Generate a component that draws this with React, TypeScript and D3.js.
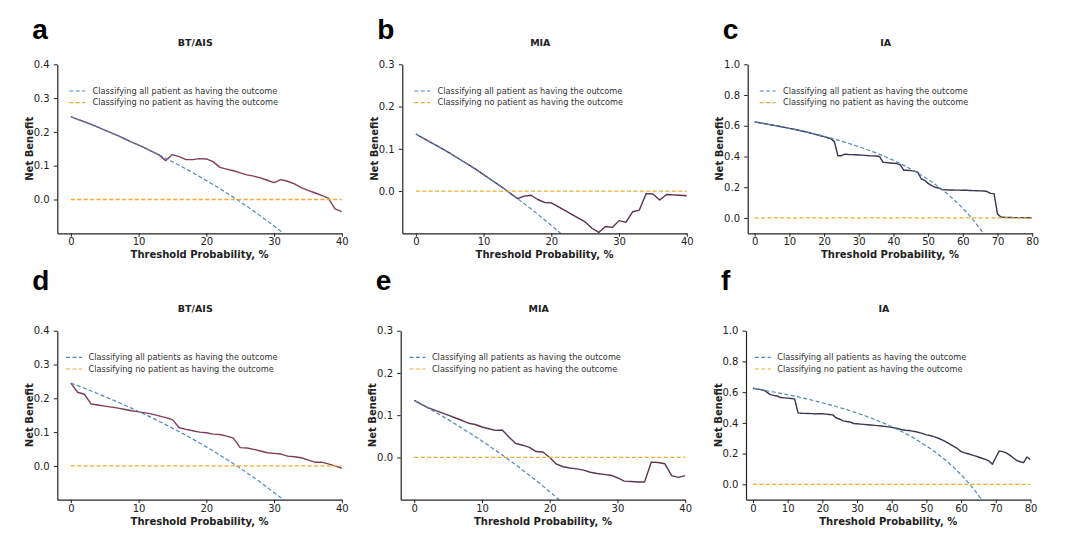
import { useEffect, useRef } from "react";
import * as d3 from "d3";

// threshold probabilities (%)
const thresholds40 = [
	0, 1, 2, 3, 4, 5, 6, 7, 8, 9, 10, 11, 12, 13, 14, 15, 16, 17, 18, 19, 20, 21, 22, 23, 24, 25, 26, 27, 28, 29, 30, 31, 32,
	33, 34, 35, 36, 37, 38, 39, 40,
];
const thresholds80 = [
	0, 1, 2, 3, 4, 5, 6, 7, 8, 9, 10, 11, 12, 13, 14, 15, 16, 17, 18, 19, 20, 21, 22, 23, 24, 25, 26, 27, 28, 29, 30, 31, 32,
	33, 34, 35, 36, 37, 38, 39, 40, 41, 42, 43, 44, 45, 46, 47, 48, 49, 50, 51, 52, 53, 54, 55, 56, 57, 58, 59, 60, 61, 62,
	63, 64, 65, 66, 67, 68, 69, 70, 71, 72, 73, 74, 75, 76, 77, 78, 79, 80,
];

// "treat all" net benefit, read at each threshold
const treatAllBtAis = [
	0.245, 0.2374, 0.2296, 0.2216, 0.2135, 0.2053, 0.1968, 0.1882, 0.1793, 0.1703, 0.1611, 0.1517, 0.142, 0.1322, 0.1221,
	0.1118, 0.1012, 0.0904, 0.0793, 0.0679, 0.0563, 0.0443, 0.0321, 0.0195, 0.0066, -0.0067, -0.0203, -0.0342, -0.0486,
	-0.0634, -0.0786, -0.0942, -0.1103,
];
const treatAllMia = [
	0.135, 0.1263, 0.1173, 0.1082, 0.099, 0.0895, 0.0798, 0.0699, 0.0598, 0.0495, 0.0389, 0.0281, 0.017, 0.0057, -0.0058,
	-0.0176, -0.0298, -0.0422, -0.0549, -0.0679, -0.0813, -0.0949, -0.109,
];
const treatAllIa = [
	0.625, 0.621, 0.617, 0.613, 0.609, 0.605, 0.601, 0.597, 0.592, 0.588, 0.583, 0.579, 0.574, 0.569, 0.564, 0.559, 0.554,
	0.548, 0.543, 0.537, 0.531, 0.525, 0.519, 0.513, 0.5066, 0.5, 0.4932, 0.4863, 0.4792, 0.4718, 0.4643, 0.4565, 0.4485,
	0.4403, 0.4318, 0.4231, 0.4141, 0.4048, 0.3952, 0.3852, 0.375, 0.3644, 0.3534, 0.3421, 0.3304, 0.3182, 0.3056, 0.2925,
	0.2788, 0.2647, 0.25, 0.2347, 0.2188, 0.2021, 0.1848, 0.1667, 0.1477, 0.1279, 0.1071, 0.0854, 0.0625, 0.0385, 0.0132,
	-0.0135, -0.0417, -0.0714, -0.1029,
];

// model net benefit
const modelA = [
	0.245, 0.237, 0.23, 0.222, 0.214, 0.205, 0.197, 0.188, 0.179, 0.17, 0.161, 0.152, 0.142, 0.132, 0.115, 0.133, 0.127,
	0.118, 0.118, 0.121, 0.12, 0.112, 0.095, 0.09, 0.085, 0.079, 0.073, 0.069, 0.064, 0.057, 0.05, 0.059, 0.054, 0.046,
	0.035, 0.027, 0.02, 0.012, 0.004, -0.028, -0.036,
];
const modelB = [
	0.135, 0.126, 0.117, 0.108, 0.099, 0.09, 0.08, 0.07, 0.06, 0.05, 0.039, 0.028, 0.017, 0.006, -0.006, -0.018, -0.012,
	-0.01, -0.02, -0.027, -0.028, -0.037, -0.046, -0.055, -0.064, -0.073, -0.088, -0.098, -0.084, -0.086, -0.07, -0.074,
	-0.049, -0.045, -0.006, -0.007, -0.021, -0.008, -0.009, -0.01, -0.011,
];
const modelC = [
	0.625, 0.621, 0.617, 0.613, 0.609, 0.605, 0.601, 0.597, 0.592, 0.588, 0.583, 0.579, 0.574, 0.569, 0.564, 0.559, 0.553,
	0.547, 0.541, 0.535, 0.529, 0.522, 0.515, 0.495, 0.405, 0.405, 0.415, 0.413, 0.412, 0.411, 0.41, 0.409, 0.407, 0.405,
	0.404, 0.403, 0.4, 0.362, 0.36, 0.358, 0.356, 0.354, 0.345, 0.31, 0.31, 0.308, 0.305, 0.298, 0.255, 0.245, 0.225, 0.21,
	0.2, 0.195, 0.185, 0.183, 0.182, 0.182, 0.181, 0.181, 0.18, 0.18, 0.179, 0.178, 0.177, 0.176, 0.175, 0.172, 0.16, 0.158,
	0.025, 0.006, 0.004, 0.003, 0.003, 0.002, 0.002, 0.002, 0.001, 0.001, 0.001,
];
const modelD = [
	0.245, 0.218, 0.212, 0.183, 0.18, 0.177, 0.174, 0.171, 0.167, 0.163, 0.16, 0.157, 0.153, 0.148, 0.143, 0.137, 0.113,
	0.108, 0.104, 0.1, 0.098, 0.094, 0.093, 0.088, 0.082, 0.054, 0.053, 0.049, 0.044, 0.039, 0.037, 0.035, 0.029, 0.027,
	0.024, 0.018, 0.011, 0.011, 0.006, 0.0, -0.007,
];
const modelE = [
	0.135, 0.126, 0.118, 0.112, 0.106, 0.1, 0.094, 0.088, 0.081, 0.078, 0.072, 0.068, 0.064, 0.065, 0.048, 0.033, 0.029,
	0.024, 0.014, 0.013, 0.0, -0.016, -0.022, -0.025, -0.027, -0.03, -0.035, -0.038, -0.04, -0.042, -0.048, -0.056, -0.057,
	-0.058, -0.058, -0.011, -0.012, -0.015, -0.043, -0.047, -0.043,
];
const modelF = [
	0.625, 0.621, 0.618, 0.614, 0.6, 0.584, 0.579, 0.575, 0.565, 0.563, 0.561, 0.559, 0.556, 0.465, 0.463, 0.462, 0.461,
	0.46, 0.458, 0.46, 0.459, 0.457, 0.455, 0.452, 0.432, 0.425, 0.413, 0.409, 0.406, 0.396, 0.394, 0.392, 0.39, 0.388,
	0.386, 0.384, 0.382, 0.38, 0.377, 0.374, 0.371, 0.367, 0.362, 0.355, 0.352, 0.35, 0.346, 0.342, 0.337, 0.33, 0.322,
	0.318, 0.312, 0.304, 0.295, 0.284, 0.272, 0.259, 0.245, 0.232, 0.213, 0.205, 0.199, 0.192, 0.185, 0.178, 0.17, 0.162,
	0.152, 0.13, 0.175, 0.218, 0.213, 0.205, 0.19, 0.173, 0.156, 0.147, 0.141, 0.178, 0.16,
];

// tick labels
const xTicks40 = [0, 10, 20, 30, 40];
const xTicks80 = [0, 10, 20, 30, 40, 50, 60, 70, 80];
const yTicksBt = [0, 0.1, 0.2, 0.3, 0.4];
const yTicksMia = [0, 0.1, 0.2, 0.3];
const yTicksIa = [0, 0.2, 0.4, 0.6, 0.8, 1.0];

const letters = ["a", "b", "c", "d", "e", "f"];
const titles = ["BT/AIS", "MIA", "IA", "BT/AIS", "MIA", "IA"];
const allLabels = [
	"Classifying all patient as having the outcome",
	"Classifying all patient as having the outcome",
	"Classifying all patient as having the outcome",
	"Classifying all patients as having the outcome",
	"Classifying all patients as having the outcome",
	"Classifying all patients as having the outcome",
];
const noneLabel = "Classifying no patient as having the outcome";

interface Panel {
	row: number;
	col: number;
	xs: number[];
	xMax: number;
	yMax: number;
	xTicks: number[];
	yTicks: number[];
	model: number[];
	treatAll: number[];
	color: string;
}

const panels: Panel[] = [
	{ row: 0, col: 0, xs: thresholds40, xMax: 40, yMax: 0.4, xTicks: xTicks40, yTicks: yTicksBt, model: modelA, treatAll: treatAllBtAis, color: "#843d5c" },
	{ row: 0, col: 1, xs: thresholds40, xMax: 40, yMax: 0.3, xTicks: xTicks40, yTicks: yTicksMia, model: modelB, treatAll: treatAllMia, color: "#5c2f4e" },
	{ row: 0, col: 2, xs: thresholds80, xMax: 80, yMax: 1.0, xTicks: xTicks80, yTicks: yTicksIa, model: modelC, treatAll: treatAllIa, color: "#3b3551" },
	{ row: 1, col: 0, xs: thresholds40, xMax: 40, yMax: 0.4, xTicks: xTicks40, yTicks: yTicksBt, model: modelD, treatAll: treatAllBtAis, color: "#803c5b" },
	{ row: 1, col: 1, xs: thresholds40, xMax: 40, yMax: 0.3, xTicks: xTicks40, yTicks: yTicksMia, model: modelE, treatAll: treatAllMia, color: "#5e3653" },
	{ row: 1, col: 2, xs: thresholds80, xMax: 80, yMax: 1.0, xTicks: xTicks80, yTicks: yTicksIa, model: modelF, treatAll: treatAllIa, color: "#3c3650" },
];

// layout
const W = 1080;
const H = 554;
const lefts = [
	[57.3, 402.3, 747.7],
	[57.3, 400.7, 746],
];
const tops = [64.3, 330.7];
const axW = 284.5;
const axH = 169;
const letterY = [39.3, 289.5];
const titleY = [46, 311.7];
const legendDash = [12, 8.8];
const legendText = [35.3, 31.2];
const font = "DejaVu Sans";
const blue = "#4f86c0";
const orange = "#f2a92e";
const ink = "#222";

function App() {
	const ref = useRef<SVGSVGElement>(null);

	useEffect(() => {
		drawChart();
	}, []);

	function drawChart() {
		const svg = d3.select(ref.current);
		svg.selectAll("*").remove();

		panels.forEach((p, i) => {
			const left = lefts[p.row][p.col];
			const top = tops[p.row];

			const x = d3.scaleLinear().domain([-2, p.xMax]).range([left, left + axW]);
			const y = d3.scaleLinear().domain([-0.1, p.yMax]).range([top + axH, top]);

			const g = svg.append("g");

			const clipId = `clip-${i}`;
			g.append("clipPath").attr("id", clipId).append("rect").attr("x", left).attr("y", top).attr("width", axW).attr("height", axH);

			const line = d3
				.line<[number, number]>()
				.x((d) => x(d[0]))
				.y((d) => y(d[1]));

			const plot = g.append("g").attr("clip-path", `url(#${clipId})`);

			// model curve
			plot.append("path")
				.datum(p.model.map((v, k) => [p.xs[k], v] as [number, number]))
				.attr("d", line)
				.attr("fill", "none")
				.attr("stroke", p.color)
				.attr("stroke-width", 1.4)
				.attr("stroke-linejoin", "round");

			// treat all
			plot.append("path")
				.datum(p.treatAll.map((v, k) => [p.xs[k], v] as [number, number]))
				.attr("d", line)
				.attr("fill", "none")
				.attr("stroke", blue)
				.attr("stroke-width", 1.2)
				.attr("stroke-dasharray", "4,2.4");

			// treat none
			plot.append("path")
				.datum([
					[0, 0],
					[p.xMax, 0],
				] as [number, number][])
				.attr("d", line)
				.attr("fill", "none")
				.attr("stroke", orange)
				.attr("stroke-width", 1.3)
				.attr("stroke-dasharray", "4,2.4");

			// axes
			const xAxis = g
				.append("g")
				.attr("transform", `translate(0,${top + axH})`)
				.call(d3.axisBottom(x).tickValues(p.xTicks).tickSize(3.5).tickPadding(1.6).tickSizeOuter(0).tickFormat(d3.format("d")));
			const yAxis = g
				.append("g")
				.attr("transform", `translate(${left},0)`)
				.call(d3.axisLeft(y).tickValues(p.yTicks).tickSize(3.5).tickPadding(4.2).tickSizeOuter(0).tickFormat(d3.format(".1f")));

			[xAxis, yAxis].forEach((a) => {
				a.attr("font-family", font).attr("font-size", 10);
				a.select(".domain").attr("stroke", ink).attr("stroke-width", 1.2);
				a.selectAll(".tick line").attr("stroke", ink).attr("stroke-width", 1);
				a.selectAll(".tick text").attr("fill", ink);
			});

			// labels
			g.append("text")
				.attr("x", left + axW / 2)
				.attr("y", top + axH + 25)
				.attr("text-anchor", "middle")
				.attr("font-family", font)
				.attr("font-weight", "bold")
				.attr("font-size", 10)
				.attr("fill", ink)
				.text("Threshold Probability, %");

			g.append("text")
				.attr("transform", `translate(${left - 28},${top + axH / 2}) rotate(-90)`)
				.attr("text-anchor", "middle")
				.attr("dy", "0.35em")
				.attr("font-family", font)
				.attr("font-weight", "bold")
				.attr("font-size", 10)
				.attr("fill", ink)
				.text("Net Benefit");

			g.append("text")
				.attr("x", left + 138)
				.attr("y", titleY[p.row])
				.attr("text-anchor", "middle")
				.attr("font-family", font)
				.attr("font-weight", "bold")
				.attr("font-size", 9.5)
				.attr("fill", ink)
				.text(titles[i]);

			g.append("text")
				.attr("x", left - 25)
				.attr("y", letterY[p.row])
				.attr("font-family", "Liberation Sans")
				.attr("font-weight", "bold")
				.attr("font-size", 28)
				.attr("fill", "#000")
				.text(letters[i]);

			// legend
			const legend = g
				.append("g")
				.selectAll("g")
				.data([
					{ label: allLabels[i], color: blue },
					{ label: noneLabel, color: orange },
				])
				.join("g")
				.attr("transform", (_, k) => `translate(${left},${top + 26.7 + k * 11.6})`);

			legend
				.append("line")
				.attr("x1", legendDash[p.row])
				.attr("x2", legendDash[p.row] + 16)
				.attr("stroke", (d) => d.color)
				.attr("stroke-width", 1.2)
				.attr("stroke-dasharray", "4,2.4");

			legend
				.append("text")
				.attr("x", legendText[p.row])
				.attr("dy", "0.35em")
				.attr("font-family", font)
				.attr("font-size", 8.2)
				.attr("fill", "#333")
				.text((d) => d.label);
		});
	}

	return (
		<svg ref={ref} width={W} height={H} style={{ position: "absolute", left: 0, top: 0, background: "#fff" }} />
	);
}

export default App;
